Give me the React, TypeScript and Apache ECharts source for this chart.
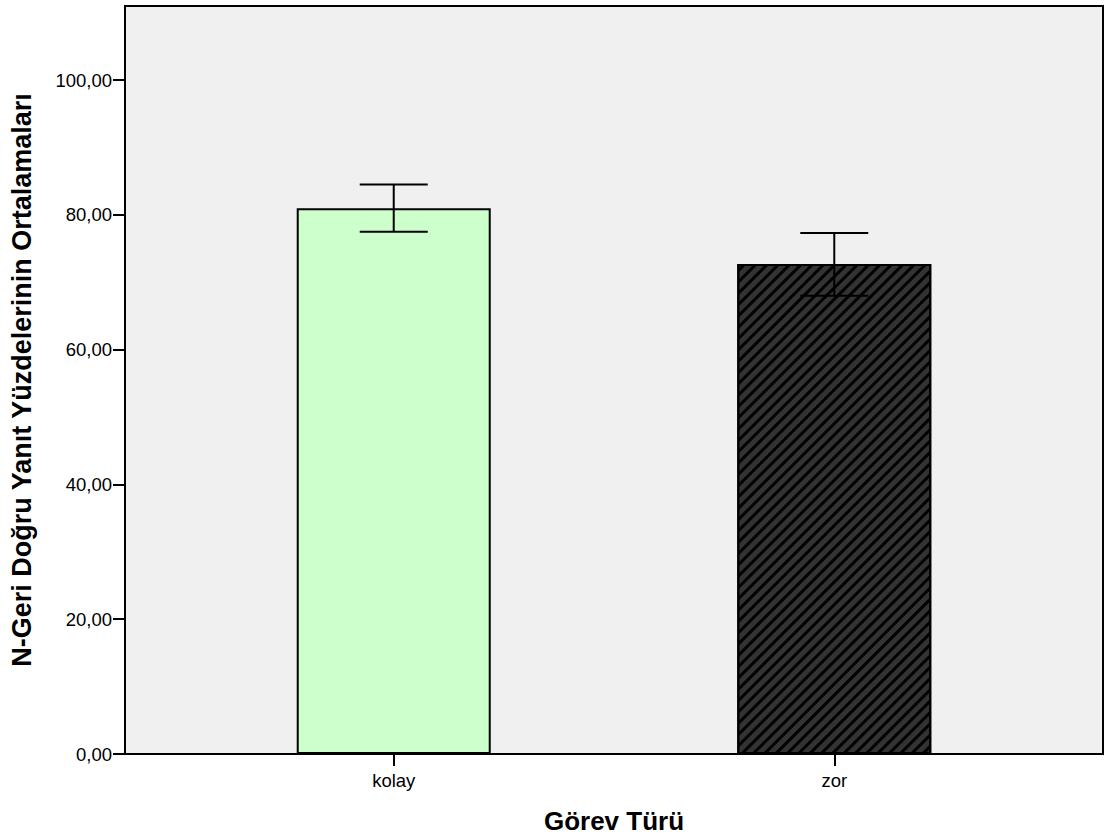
import React, { useEffect, useRef } from "react";
import * as echarts from "echarts";

const categories = ["kolay", "zor"];
const means = [81.0, 72.7];
const errLow = [77.5, 68.0];
const errHigh = [84.5, 77.3];
const yTicks = [0, 20, 40, 60, 80, 100];
const xTitle = "Görev Türü";
const yTitle = "N-Geri Doğru Yanıt Yüzdelerinin Ortalamaları";

const FONT = "'Liberation Sans', Arial, sans-serif";

export default function App() {
  const ref = useRef<HTMLDivElement>(null);
  useEffect(() => {
    if (!ref.current) return;
    const chart = echarts.init(ref.current, null, { renderer: "svg" });
    const xPos = categories.map((_, i) => i + 1);
    const barData = means.map((m, i) => {
      const item: any = { value: [xPos[i], m] };
      if (i === 0) {
        item.itemStyle = { color: "#CCFFCC", borderColor: "#000", borderWidth: 2 };
      } else {
        item.itemStyle = {
          color: "#333333",
          borderColor: "#000",
          borderWidth: 2,
          decal: {
            symbol: "rect",
            symbolSize: 1,
            color: "#000000",
            dashArrayX: [1, 0],
            dashArrayY: [3, 5],
            rotation: -Math.PI / 4,
          },
        };
      }
      return item;
    });
    const errData = categories.map((_, i) => [xPos[i], errLow[i], errHigh[i]]);
    chart.setOption({
      animation: false,
      grid: {
        left: 125,
        right: 1,
        top: 6,
        bottom: 84.5,
        show: true,
        backgroundColor: "#F0F0F0",
        borderColor: "#000",
        borderWidth: 2,
      },
      xAxis: {
        type: "value",
        min: 0.39,
        max: 2.61,
        name: xTitle,
        nameLocation: "middle",
        nameGap: 54,
        nameTextStyle: { fontFamily: FONT, fontWeight: "bold", fontSize: 26, color: "#000" },
        axisLine: { show: true, lineStyle: { color: "#000", width: 2 } },
        axisTick: { show: true, customValues: xPos, length: 12, lineStyle: { color: "#000", width: 2 } },
        axisLabel: {
          customValues: xPos,
          margin: 17,
          fontFamily: FONT,
          fontSize: 18.5,
          color: "#000",
          formatter: (v: number) => categories[Math.round(v) - 1] ?? "",
        },
        splitLine: { show: false },
      },
      yAxis: {
        type: "value",
        min: 0,
        max: 111,
        interval: 20,
        name: yTitle,
        nameLocation: "middle",
        nameGap: 90,
        nameTextStyle: { fontFamily: FONT, fontWeight: "bold", fontSize: 27, color: "#000" },
        axisLine: { show: true, lineStyle: { color: "#000", width: 2 } },
        axisTick: { show: true, customValues: yTicks, length: 12, lineStyle: { color: "#000", width: 2 } },
        axisLabel: {
          customValues: yTicks,
          margin: 13,
          fontFamily: FONT,
          fontSize: 18.5,
          color: "#000",
          formatter: (v: number) => v.toFixed(2).replace(".", ","),
        },
        splitLine: { show: false },
      },
      series: [
        {
          type: "bar",
          data: barData,
          barWidth: 194,
        },
        {
          type: "custom",
          data: errData,
          z: 10,
          renderItem: (params: any, api: any) => {
            const x = api.value(0);
            const lo = api.coord([x, api.value(1)]);
            const hi = api.coord([x, api.value(2)]);
            const half = 34;
            const style = { stroke: "#000", lineWidth: 2 };
            return {
              type: "group",
              children: [
                { type: "line", shape: { x1: hi[0], y1: hi[1], x2: lo[0], y2: lo[1] }, style },
                { type: "line", shape: { x1: hi[0] - half, y1: hi[1], x2: hi[0] + half, y2: hi[1] }, style },
                { type: "line", shape: { x1: lo[0] - half, y1: lo[1], x2: lo[0] + half, y2: lo[1] }, style },
              ],
            };
          },
        },
      ],
    });
    return () => chart.dispose();
  }, []);
  return (
    <div
      ref={ref}
      style={{ position: "absolute", left: 0, top: 0, width: 1104, height: 839, background: "#fff" }}
    />
  );
}
